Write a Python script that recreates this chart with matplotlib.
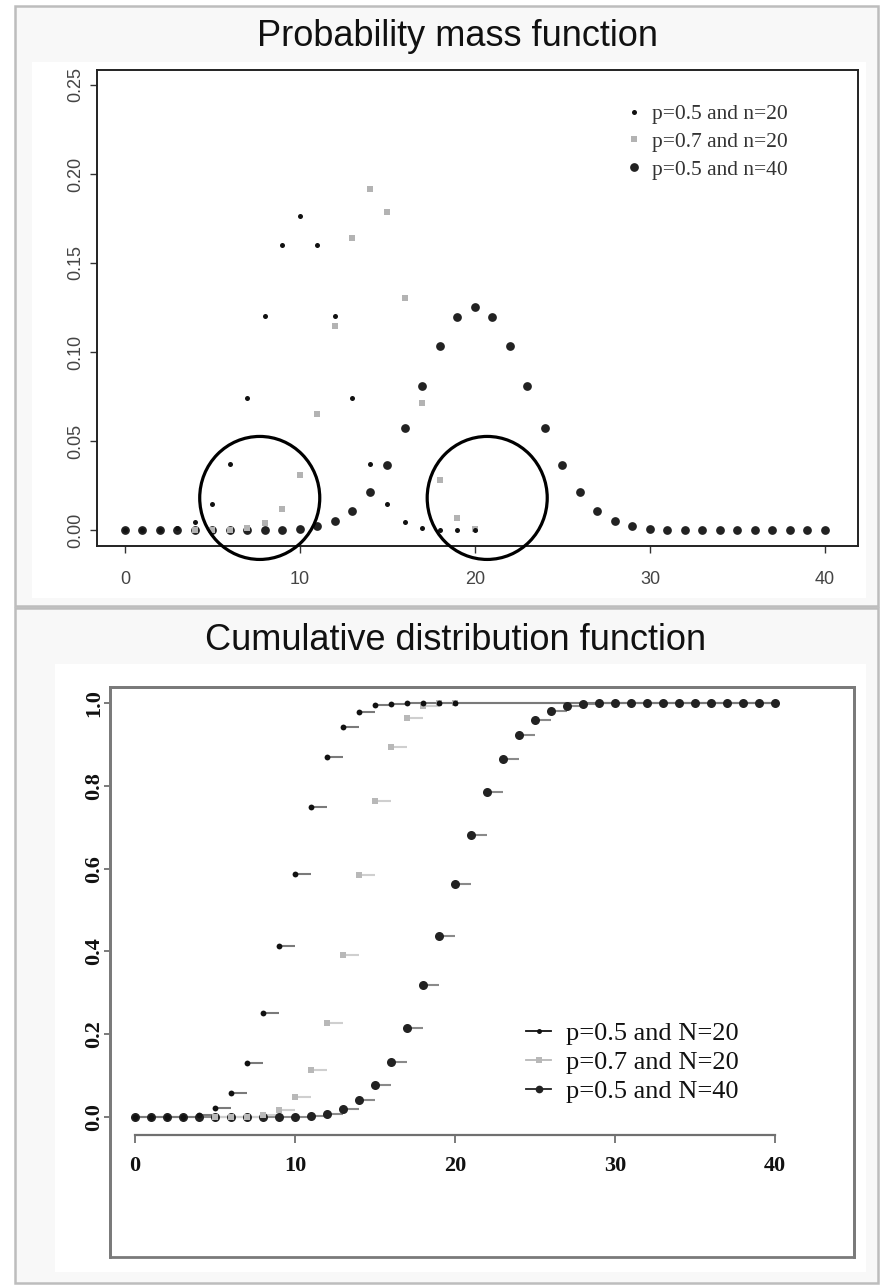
import numpy as np
import matplotlib
matplotlib.use('Agg')
import matplotlib.pyplot as plt
from matplotlib.patches import Rectangle, Ellipse

# values
pmf_x_n20 = list(range(0, 21))
pmf_x_p07 = list(range(4, 21))
pmf_x_n40 = list(range(0, 41))

pmf_p05_n20 = [0.0000, 0.0000, 0.0002, 0.0011, 0.0046, 0.0148, 0.0370, 0.0739,
               0.1201, 0.1602, 0.1762, 0.1602, 0.1201, 0.0739, 0.0370, 0.0148,
               0.0046, 0.0011, 0.0002, 0.0000, 0.0000]
pmf_p07_n20 = [0.0000, 0.0000, 0.0002, 0.0010, 0.0039, 0.0120, 0.0308, 0.0654,
               0.1144, 0.1643, 0.1916, 0.1789, 0.1304, 0.0716, 0.0278, 0.0068,
               0.0008]
pmf_p05_n40 = [0.0000, 0.0000, 0.0000, 0.0000, 0.0000, 0.0000, 0.0000, 0.0000,
               0.0000, 0.0002, 0.0008, 0.0021, 0.0051, 0.0109, 0.0211, 0.0366,
               0.0572, 0.0807, 0.1031, 0.1194, 0.1254, 0.1194, 0.1031, 0.0807,
               0.0572, 0.0366, 0.0211, 0.0109, 0.0051, 0.0021, 0.0008, 0.0002,
               0.0000, 0.0000, 0.0000, 0.0000, 0.0000, 0.0000, 0.0000, 0.0000,
               0.0000]

cdf_x_n20 = list(range(0, 21))
cdf_x_p07 = list(range(5, 21))
cdf_x_n40 = list(range(0, 41))

cdf_p05_n20 = [0.0000, 0.0000, 0.0002, 0.0013, 0.0059, 0.0207, 0.0577, 0.1316,
               0.2517, 0.4119, 0.5881, 0.7483, 0.8684, 0.9423, 0.9793, 0.9941,
               0.9987, 0.9998, 1.0000, 1.0000, 1.0000]
cdf_p07_n20 = [0.0000, 0.0003, 0.0013, 0.0051, 0.0171, 0.0480, 0.1133, 0.2277,
               0.3920, 0.5836, 0.7625, 0.8929, 0.9645, 0.9924, 0.9992, 1.0000]
cdf_p05_n40 = [0.0000, 0.0000, 0.0000, 0.0000, 0.0000, 0.0000, 0.0000, 0.0000,
               0.0000, 0.0003, 0.0011, 0.0032, 0.0083, 0.0192, 0.0403, 0.0769,
               0.1341, 0.2148, 0.3179, 0.4373, 0.5627, 0.6821, 0.7852, 0.8659,
               0.9231, 0.9597, 0.9808, 0.9917, 0.9968, 0.9989, 0.9997, 1.0000,
               1.0000, 1.0000, 1.0000, 1.0000, 1.0000, 1.0000, 1.0000, 1.0000,
               1.0000]

pmf_labels = ['p=0.5 and n=20', 'p=0.7 and n=20', 'p=0.5 and n=40']
cdf_labels = ['p=0.5 and N=20', 'p=0.7 and N=20', 'p=0.5 and N=40']
x_ticks = [0, 10, 20, 30, 40]
pmf_y_ticks = [0.00, 0.05, 0.10, 0.15, 0.20, 0.25]
cdf_y_ticks = [0.0, 0.2, 0.4, 0.6, 0.8, 1.0]

# the two circled regions in the pmf panel (data coords)
circle_centers = [(7.7, 0.018), (20.7, 0.018)]

W, H = 880, 1286
fig = plt.figure(figsize=(W / 100, H / 100), dpi=100)
fig.patch.set_facecolor('white')


def px_rect(left, top, right, bottom):
    return [left / W, 1 - bottom / H, (right - left) / W, (bottom - top) / H]


# panel borders, drawn in pixel space
bg = fig.add_axes([0, 0, 1, 1])
bg.set_xlim(0, W)
bg.set_ylim(H, 0)
bg.axis('off')
for (l, t, r, b) in [(15, 6, 878, 606), (15, 608, 878, 1283)]:
    bg.add_patch(Rectangle((l, t), r - l, b - t, facecolor='#f8f8f8',
                           edgecolor='#bdbdbd', lw=1.8))
for (l, t, r, b) in [(32, 62, 866, 598), (55, 664, 866, 1272)]:
    bg.add_patch(Rectangle((l, t), r - l, b - t, facecolor='white',
                           edgecolor='none'))

sans = ['Liberation Sans', 'DejaVu Sans']
serif = ['Liberation Serif', 'DejaVu Serif']

fig.text(457 / W, 1 - 36 / H, 'Probability mass function', ha='center',
         va='center', fontsize=26, family=sans, color='#111')
fig.text(456 / W, 1 - 640 / H, 'Cumulative distribution function',
         ha='center', va='center', fontsize=26, family=sans, color='#111')

# ---- pmf panel ----
ax1 = fig.add_axes(px_rect(97, 70, 858, 546))
ax1.set_xlim(-1.6, 41.89)
ax1.set_ylim(-0.009, 0.2584)
ax1.plot(pmf_x_n40, pmf_p05_n40, 'o', color='#222222', ms=6.3, mew=0,
         label=pmf_labels[2], zorder=3)
ax1.plot(pmf_x_p07, pmf_p07_n20, 's', color='#b3b3b3', ms=4.3, mew=0,
         label=pmf_labels[1], zorder=4)
ax1.plot(pmf_x_n20, pmf_p05_n20, 'o', color='#111111', ms=3.6, mew=0,
         label=pmf_labels[0], zorder=5)

for cx, cy in circle_centers:
    ax1.add_patch(Ellipse((cx, cy), 6.86, 0.0691, fill=False, ec='black',
                          lw=2.3, clip_on=False, zorder=6))

for s in ax1.spines.values():
    s.set_color('#222222')
    s.set_linewidth(1.4)
ax1.set_xticks(x_ticks)
ax1.set_yticks(pmf_y_ticks)
ax1.set_yticklabels(['%.2f' % v for v in pmf_y_ticks])
ax1.tick_params(axis='both', direction='out', length=5, width=1,
                color='#333333', labelsize=13, labelcolor='#444444')
ax1.tick_params(axis='x', pad=13)
ax1.tick_params(axis='y', pad=4, labelrotation=90)
for lab in ax1.get_xticklabels() + ax1.get_yticklabels():
    lab.set_family(sans)
for lab in ax1.get_yticklabels():
    lab.set_va('center')

h, l = ax1.get_legend_handles_labels()
leg1 = ax1.legend(h[::-1], l[::-1], loc='upper left',
                  bbox_to_anchor=((628 - 97) / 761, (546 - 104) / 476),
                  frameon=False, prop={'family': serif, 'size': 15.5},
                  handlelength=0.6, handletextpad=0.5, labelspacing=0.36,
                  borderpad=0, borderaxespad=0)
for t in leg1.get_texts():
    t.set_color('#333333')

# ---- cdf panel ----
ax2 = fig.add_axes(px_rect(110, 687, 854, 1257))
ax2.set_xlim(-1.5625, 44.94)
ax2.set_ylim(-0.338, 1.0386)

series = [
    (cdf_x_n40, cdf_p05_n40, 'o', '#222222', 6.5, '#8a8a8a', cdf_labels[2], 3),
    (cdf_x_p07, cdf_p07_n20, 's', '#b8b8b8', 5.0, '#cfcfcf', cdf_labels[1], 4),
    (cdf_x_n20, cdf_p05_n20, 'o', '#111111', 4.2, '#7a7a7a', cdf_labels[0], 5),
]
for xs, ys, mk, col, ms, seg, lab, z in series:
    x_next = np.append(xs[1:], 40)
    ax2.hlines(ys, xs, x_next, colors=seg, lw=1.5, zorder=2)
    ax2.plot(xs, ys, mk, color=col, ms=ms, mew=0, zorder=z)
    # legend entry: short line with the marker in the middle
    ax2.plot([], [], '-', marker=mk, color=col, ms=ms * 0.85, mew=0,
             lw=1.3, label=lab)

for side in ['top', 'right', 'left']:
    ax2.spines[side].set_color('#7a7a7a')
    ax2.spines[side].set_linewidth(2)
ax2.add_patch(Rectangle((0, 0), 1, 1, transform=ax2.transAxes, fill=False,
                        ec='#7a7a7a', lw=2, clip_on=False, zorder=1))
# the x axis sits inside the box, R style
ax2.spines['bottom'].set_position(('data', -0.0435))
ax2.spines['bottom'].set_bounds(0, 40)
ax2.spines['bottom'].set_color('#707070')
ax2.spines['bottom'].set_linewidth(1.6)

ax2.set_xticks(x_ticks)
ax2.set_yticks(cdf_y_ticks)
ax2.set_yticklabels(['%.1f' % v for v in cdf_y_ticks])
ax2.tick_params(axis='both', direction='out', length=6, width=1.3,
                color='#707070', labelsize=16, labelcolor='#111111')
ax2.tick_params(axis='x', pad=9)
ax2.tick_params(axis='y', length=4, pad=0, labelrotation=90)
for lab in ax2.get_xticklabels() + ax2.get_yticklabels():
    lab.set_family(serif)
    lab.set_fontweight('bold')
for lab in ax2.get_yticklabels():
    lab.set_va('center')

h, l = ax2.get_legend_handles_labels()
leg2 = ax2.legend(h[::-1], l[::-1], loc='upper left',
                  bbox_to_anchor=((526 - 110) / 744, (1257 - 1022) / 570),
                  frameon=False, prop={'family': serif, 'size': 19},
                  handlelength=0.95, handletextpad=0.55, labelspacing=0.2,
                  borderpad=0, borderaxespad=0)
for t in leg2.get_texts():
    t.set_color('#111111')

fig.savefig('out.png', dpi=100)
